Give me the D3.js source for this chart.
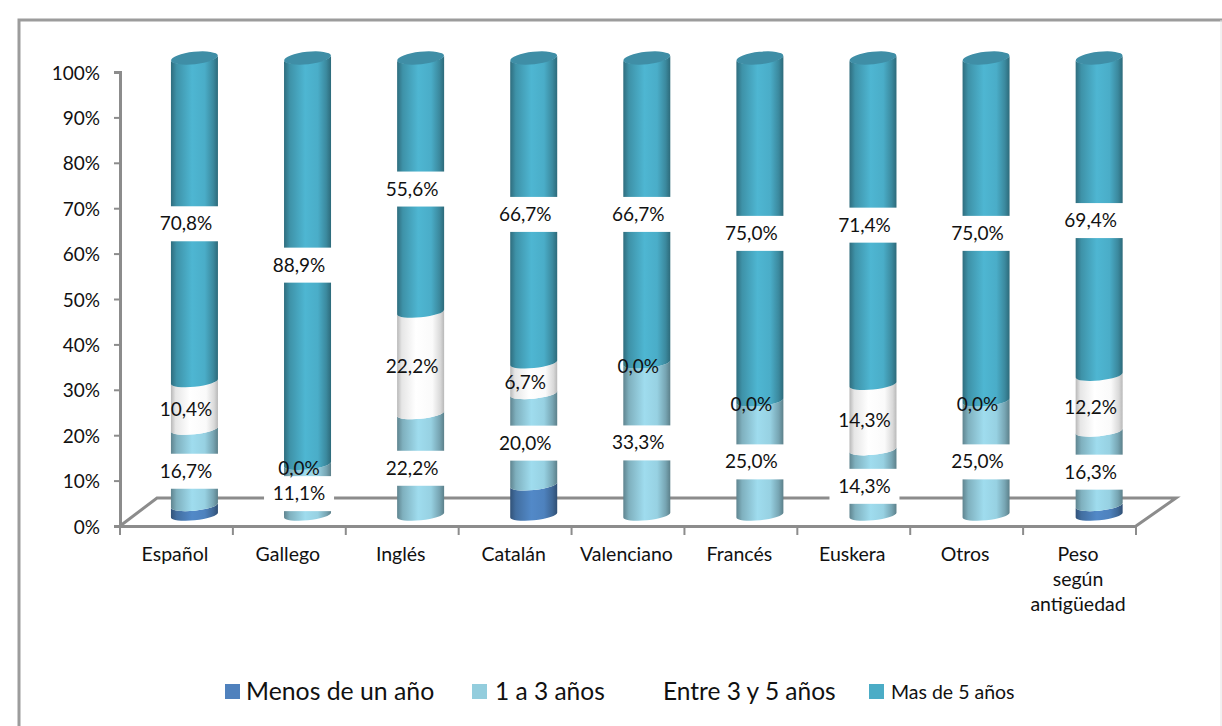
<!DOCTYPE html>
<html><head><meta charset="utf-8">
<script src="https://cdn.jsdelivr.net/npm/d3@7/dist/d3.min.js"></script>
<style>html,body{margin:0;padding:0;background:#fff}svg{display:block}text{font-family:Lato,"Open Sans",sans-serif;fill:#111}</style>
</head><body><svg id="c" width="1222" height="726"></svg>
<script>
const categories=["Español","Gallego","Inglés","Catalán","Valenciano","Francés","Euskera","Otros","Peso según antigüedad"];
const seriesNames=["Menos de un año","1 a 3 años","Entre 3 y 5 años","Mas de 5 años"];
const menosDeUnAno=[2.1,0,0,6.6,0,0,0,0,2.1];
const unoATres=[16.7,11.1,22.2,20.0,33.3,25.0,14.3,25.0,16.3];
const entreTresYCinco=[10.4,0,22.2,6.7,0,0,14.3,0,12.2];
const masDeCinco=[70.8,88.9,55.6,66.7,66.7,75.0,71.4,75.0,69.4];
const yTicks=[0,10,20,30,40,50,60,70,80,90,100];

const svg=d3.select("#c");
const grid="#8c8c8c";
const x=d3.scaleBand().domain(categories).range([120,1136]);
const yAxisScale=d3.scaleLinear().domain([0,100]).range([526,72]);
const yBar=d3.scaleLinear().domain([0,100]).range([515,58]);
const fmt=v=>v.toFixed(1).replace(".",",")+"%";

// outer frame
svg.append("path").attr("d","M19,726V20H1222").attr("fill","none").attr("stroke","#9c9c9c").attr("stroke-width",3);
svg.append("path").attr("d","M1221,20V726").attr("fill","none").attr("stroke","#e4e4e4").attr("stroke-width",1);

// gradients
const defs=svg.append("defs");
function grad(id,c,stops){
  const g=defs.append("linearGradient").attr("id",id).attr("x1",0).attr("x2",1).attr("y1",0).attr("y2",0);
  const base=d3.rgb(c);
  stops.forEach(([o,k])=>{
    g.append("stop").attr("offset",o).attr("stop-color",d3.rgb(base.r*k,base.g*k,base.b*k).formatHex());
  });
}
const shade=[[0,.6],[.12,.8],[.45,1],[.72,.95],[.9,.75],[1,.58]];
const shadeWhite=[[0,.72],[.1,.9],[.4,1],[.75,.98],[.92,.85],[1,.72]];
const colors=["#5289c8","#9fdcee","#ffffff","#4eb6d2"];
colors.forEach((c,i)=>grad("g"+i,c,i===2?shadeWhite:shade));

// floor
svg.append("path").attr("d","M120,526L157,498H1176L1136,526").attr("fill","none").attr("stroke",grid).attr("stroke-width",3);

// axes
const ax=d3.axisLeft(yAxisScale).tickValues(yTicks).tickSize(6).tickFormat(d=>d+"%");
const gy=svg.append("g").attr("transform","translate(120,0)").call(ax);
const gx=svg.append("g").attr("transform","translate(0,526)").call(d3.axisBottom(x).tickValues([]).tickSizeOuter(0));
gy.select(".domain").attr("stroke",grid).attr("stroke-width",3);
gy.selectAll("line").attr("stroke",grid).attr("stroke-width",2);
gy.selectAll("text").attr("font-size",19).attr("x",-20).attr("dy","0.37em").style("font-family","Lato").style("fill","#111");
gx.select(".domain").attr("stroke",grid).attr("stroke-width",3);
const xTickPos=d3.range(categories.length+1).map(i=>x.range()[0]+i*x.bandwidth());
svg.append("g").selectAll("line").data(xTickPos).join("line")
  .attr("x1",d=>d).attr("x2",d=>d).attr("y1",526).attr("y2",535).attr("stroke",grid).attr("stroke-width",2);

// category labels
const catLines=c=>c.startsWith("Peso")?["Peso","según","antigüedad"]:[c];
categories.forEach(c=>{
  const cxl=x(c)+x.bandwidth()/2-1.5;
  const t=svg.append("text").attr("y",561).attr("text-anchor","middle").attr("font-size",19.5);
  catLines(c).forEach((l,i)=>t.append("tspan").attr("x",cxl).attr("dy",i?25:0).text(l));
});

// cylinders
const rx=23.5, ry=5.2, tilt=-6, dy=2.4;
const series=[menosDeUnAno,unoATres,entreTresYCinco,masDeCinco];
const labels=[];
categories.forEach((c,i)=>{
  const cx=x(c)+x.bandwidth()/2+18+i*0.2;
  let acc=0;
  series.forEach((s,k)=>{
    const v=s[i], y0=yBar(acc), y1=yBar(acc+v);
    if(v>0){
      const L=cx-rx,R=cx+rx;
      const d=`M${L},${y1+dy}A${rx},${ry} ${tilt} 0 0 ${R},${y1-dy}L${R},${y0-dy}A${rx},${ry} ${tilt} 0 1 ${L},${y0+dy}Z`;
      svg.append("path").attr("d",d).attr("fill",`url(#g${k})`);
    }
    if(k>0) labels.push({cx:cx-8.5,v,y:yBar(acc+v/2)+4,boxed:k!==2});
    acc+=v;
  });
  // top cap
  svg.append("ellipse").attr("cx",cx).attr("cy",yBar(100)).attr("rx",rx).attr("ry",ry+1)
    .attr("transform",`rotate(${tilt} ${cx} ${yBar(100)})`).attr("fill","#3f8ea6");
});

// data labels: the "Entre 3 y 5 años" labels have no background
const lg=svg.append("g");
labels.filter(l=>l.boxed).forEach(l=>{
  lg.append("rect").attr("x",l.cx-35).attr("y",l.y-17.5).attr("width",70).attr("height",35).attr("fill","#fff");
});
labels.forEach(l=>{
  lg.append("text").attr("x",l.cx).attr("y",l.y+6.5).attr("text-anchor","middle").attr("font-size",19).text(fmt(l.v));
});

// legend
const legendX=[225,472,0,869], legendText=[246,495,663,891], legendSize=[24.8,24.5,24.5,19.5], legendBase=[700,700,700,699];
seriesNames.forEach((n,i)=>{
  if(i!==2) svg.append("rect").attr("x",legendX[i]).attr("y",684).attr("width",15).attr("height",15).attr("fill",["#4f81bd","#93cddd","","#4bacc6"][i]);
  svg.append("text").attr("x",legendText[i]).attr("y",legendBase[i]).attr("font-size",legendSize[i]).text(n);
});
</script></body></html>
